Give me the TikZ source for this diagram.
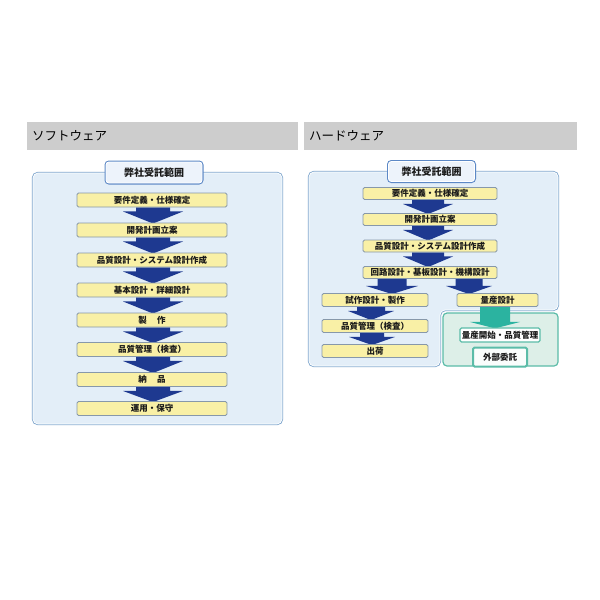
\documentclass[tikz,border=0pt]{standalone}
\usepackage{fontspec}
\newfontfamily\jp{Noto Sans CJK JP}
\usetikzlibrary{calc}
\pgfdeclarelayer{back}\pgfdeclarelayer{mid}
\pgfsetlayers{back,mid,main}
\definecolor{hdrgray}{HTML}{CDCDCD}
\definecolor{panelfill}{HTML}{E3EEF8}
\definecolor{panelborder}{HTML}{7FA6CE}
\definecolor{titlefill}{HTML}{EDF3FB}
\definecolor{titleborder}{HTML}{5C88C6}
\definecolor{yfill}{HTML}{F9F0A6}
\definecolor{yborder}{HTML}{8798AA}
\definecolor{navy}{HTML}{1E3990}
\definecolor{tealarr}{HTML}{2BB3A0}
\definecolor{greenfill}{HTML}{DDEFE8}
\definecolor{greenborder}{HTML}{5BBCA8}
\definecolor{txt}{HTML}{1A1A1A}
\newcommand\blockarr[7]{%
  \fill[#6] let \p1=(#1.south), \p2=(#2.north) in
    (#3pt-#4pt,\y1) -- (#3pt+#4pt,\y1) -- (#3pt+#4pt,\y1-#7pt) -- (#3pt+#5pt,\y1-#7pt)
    -- (#3pt,\y2-1pt) -- (#3pt-#5pt,\y1-#7pt) -- (#3pt-#4pt,\y1-#7pt) -- cycle;}
\tikzset{
  ybox/.style={draw=yborder, fill=yfill, rounded corners=1.5pt, line width=0.9pt,
    inner sep=0pt, text=txt, font=\jp\bfseries\fontsize{8.5}{9}\selectfont},
  titlebox/.style={fill=titlefill, draw=white, line width=0.9pt, rounded corners=3pt,
    preaction={draw=titleborder, line width=3pt},
    inner sep=0pt, text=txt, font=\jp\bfseries\fontsize{10}{11}\selectfont},
  hdr/.style={fill=hdrgray, draw=none},
  hdrtext/.style={anchor=west, inner sep=0pt, text=black, font=\jp\fontsize{12.5}{14}\selectfont},
  panel/.style={fill=panelfill, draw=white, line width=0.7pt, rounded corners=5pt,
    preaction={draw=panelborder, line width=2.4pt}},
  wbox/.style={fill=white, draw=greenborder, line width=1.2pt, rounded corners=1.5pt,
    inner sep=0pt, text=txt, font=\jp\bfseries\fontsize{8.5}{9}\selectfont},
}
\begin{document}
\begin{tikzpicture}[x=1pt,y=-1pt]
\useasboundingbox (0,0) rectangle (600,600);
% panels
\begin{pgfonlayer}{back}
\fill[white] (0,0) rectangle (600,600);
\path[panel] (33,173) rectangle (282,424);
\path[panel] (309,172) -- (558,172) -- (558,310) -- (440,310) -- (440,366) -- (309,366) -- cycle;
\path[fill=greenfill, draw=greenborder, line width=1.2pt, rounded corners=4pt] (443,313) rectangle (558,366);
\end{pgfonlayer}
% headers
\fill[hdr] (27,122) rectangle (298,150);
\fill[hdr] (304,122) rectangle (577,150);
\node[hdrtext] (hl) at (32,136) {ソフトウェア};
\node[hdrtext] (hr) at (309,136) {ハードウェア};
% left panel
\node[titlebox, minimum width=96pt, minimum height=21pt] (lt) at (154,172.5) {弊社受託範囲};
\foreach \i/\y/\t in {1/200/要件定義・仕様確定, 2/230/開発計画立案, 3/260/品質設計・システム設計作成,
  4/290/基本設計・詳細設計, 5/320/製\hspace{1.2em}作, 6/349.5/品質管理（検査）,
  7/379.5/納\hspace{1.2em}品, 8/408.5/運用・保守}
  {\node[ybox, minimum width=150pt, minimum height=14pt] (l\i) at (152,\y) {\t};}
\begin{pgfonlayer}{mid}
\foreach \a/\b in {1/2,2/3,3/4,4/5,5/6,6/7,7/8}
  {\blockarr{l\a}{l\b}{153}{17}{30}{navy}{4}}
\end{pgfonlayer}
% right panel
\node[titlebox, minimum width=86pt, minimum height=20pt] (rt) at (431.5,171.5) {弊社受託範囲};
\foreach \i/\y/\t in {1/193.5/要件定義・仕様確定, 2/219.5/開発計画立案, 3/246/品質設計・システム設計作成,
  4/272.5/回路設計・基板設計・機構設計}
  {\node[ybox, minimum width=134pt, minimum height=12pt] (r\i) at (430,\y) {\t};}
\node[ybox, minimum width=106pt, minimum height=13pt] (s1) at (375,300) {試作設計・製作};
\node[ybox, minimum width=106pt, minimum height=13pt] (s2) at (375,326) {品質管理（検査）};
\node[ybox, minimum width=106pt, minimum height=13pt] (s3) at (375,351) {出荷};
\node[ybox, minimum width=81pt, minimum height=13pt] (m1) at (497.5,300) {量産設計};
\node[wbox, minimum width=80pt, minimum height=14pt] (m2) at (500,335) {量産開始・品質管理};
\node[wbox, fill=white!85!greenfill, line width=2pt, minimum width=54pt, minimum height=19pt] (m3) at (500,357) {外部委託};
\begin{pgfonlayer}{mid}
\foreach \a/\b in {1/2,2/3,3/4}
  {\blockarr{r\a}{r\b}{428}{16}{25}{navy}{4}}
\blockarr{r4}{s1}{392}{14.5}{26}{navy}{7}
\blockarr{r4}{m1}{469}{13.5}{23}{navy}{7}
\blockarr{s1}{s2}{371}{14}{23}{navy}{4}
\blockarr{s2}{s3}{372}{12}{23}{navy}{4}
\blockarr{m1}{m2}{495}{15}{25}{tealarr}{15}
\end{pgfonlayer}
\end{tikzpicture}
\end{document}
